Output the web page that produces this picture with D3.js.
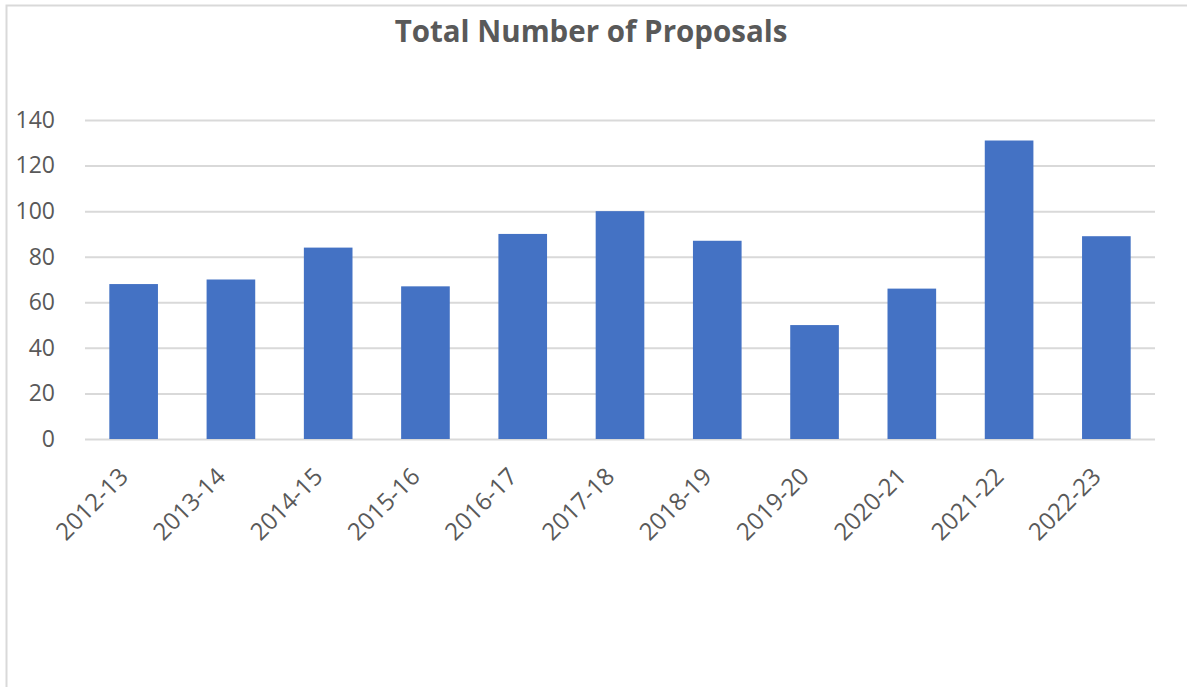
<!DOCTYPE html>
<html>
<head>
<meta charset="utf-8">
<script src="https://cdn.jsdelivr.net/npm/d3@7"></script>
<style>
  body { margin: 0; background: #fff; }
  svg text { font-family: "Open Sans", sans-serif; fill: #595959; }
</style>
</head>
<body>
<div class="graphContainer"></div>
<script>
var years = ["2012-13", "2013-14", "2014-15", "2015-16", "2016-17", "2017-18",
             "2018-19", "2019-20", "2020-21", "2021-22", "2022-23"];
var proposals = [68, 70, 84, 67, 90, 100, 87, 50, 66, 131, 89];
var yTicks = [0, 20, 40, 60, 80, 100, 120, 140];

var w = 1187, h = 687;
var plotLeft = 85, plotRight = 1155, plotTop = 120, plotBottom = 439;

var svg = d3.select(".graphContainer")
    .append("svg")
    .attr("width", w)
    .attr("height", h);

// chart frame
svg.append("path")
    .attr("d", "M6.5," + h + "V5.5H" + w)
    .attr("fill", "none")
    .attr("stroke", "#d9d9d9")
    .attr("stroke-width", 2);

svg.append("text")
    .attr("x", 591)
    .attr("y", 42)
    .attr("text-anchor", "middle")
    .attr("font-size", 29.5)
    .attr("font-weight", "bold")
    .text("Total Number of Proposals");

var x = d3.scaleBand()
    .domain(years)
    .range([plotLeft, plotRight])
    .paddingInner(0.5)
    .paddingOuter(0.25);

var y = d3.scaleLinear()
    .domain([0, 140])
    .range([plotBottom, plotTop]);

// gridlines + y labels
var yAxis = d3.axisLeft(y)
    .tickValues(yTicks)
    .tickSize(-(plotRight - plotLeft))
    .tickPadding(30);

var gy = svg.append("g")
    .attr("transform", "translate(" + plotLeft + ",0)")
    .call(yAxis);
gy.select(".domain").remove();
gy.selectAll("line").attr("stroke", "#d9d9d9").attr("stroke-width", 2);
gy.selectAll("text")
    .attr("font-size", 23)
    .attr("font-family", "Open Sans, sans-serif")
    .attr("fill", "#595959");

svg.selectAll("rect.bar")
    .data(proposals)
    .enter()
    .append("rect")
    .attr("class", "bar")
    .attr("fill", "#4472c4")
    .attr("x", function (d, i) { return x(years[i]); })
    .attr("width", x.bandwidth())
    .attr("y", function (d) { return y(d); })
    .attr("height", function (d) { return y(0) - y(d); });

// x labels
svg.selectAll("text.xlab")
    .data(years)
    .enter()
    .append("text")
    .attr("class", "xlab")
    .attr("font-size", 24)
    .attr("text-anchor", "end")
    .attr("transform", function (d) {
        return "translate(" + (x(d) + x.bandwidth() / 2 - 4) + ",478) rotate(-45)";
    })
    .text(function (d) { return d; });
</script>
</body>
</html>
